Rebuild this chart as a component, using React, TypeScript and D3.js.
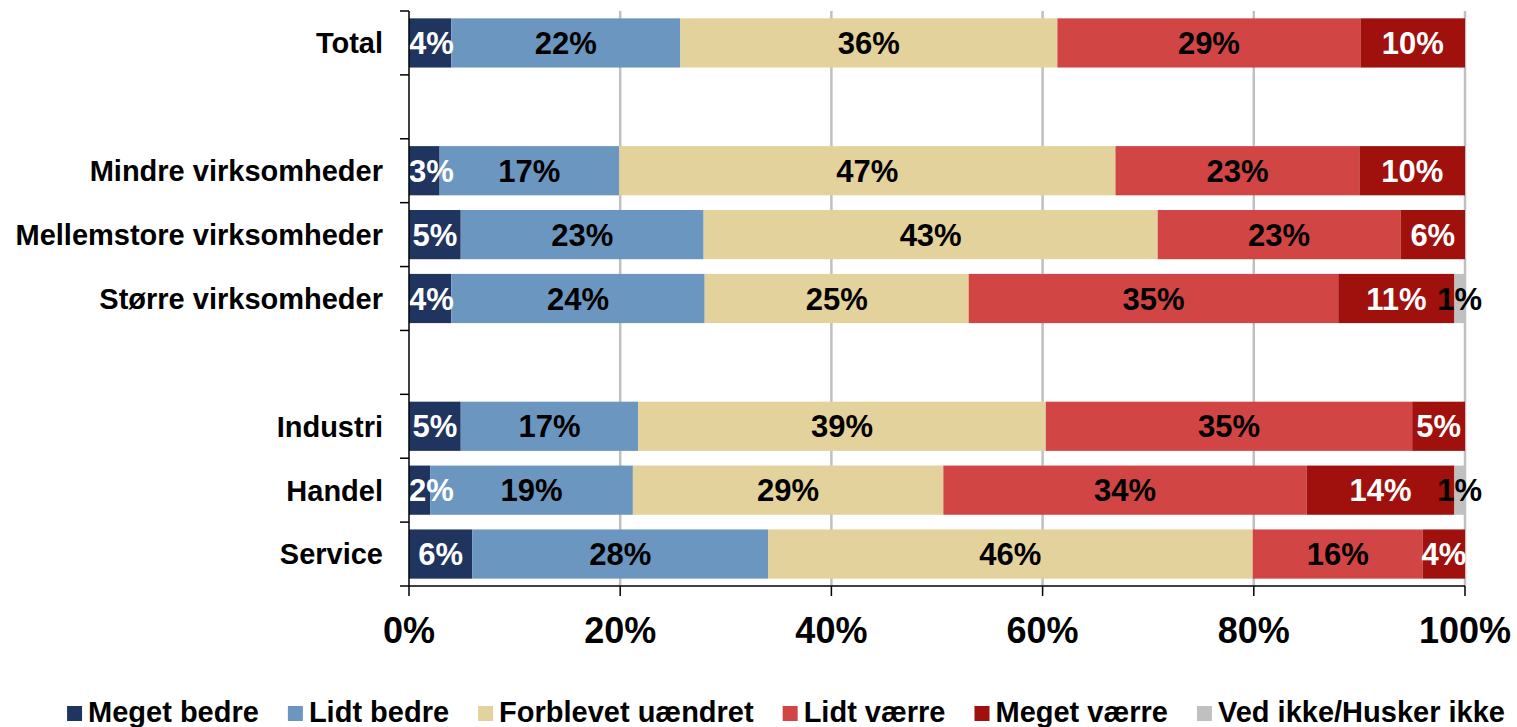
import { useEffect, useRef } from 'react'
import * as d3 from 'd3'

// rows top to bottom; blank strings are the spacer rows
const categories = ['Total', '', 'Mindre virksomheder', 'Mellemstore virksomheder', 'Større virksomheder', ' ', 'Industri', 'Handel', 'Service']

const seriesNames = ['Meget bedre', 'Lidt bedre', 'Forblevet uændret', 'Lidt værre', 'Meget værre', 'Ved ikke/Husker ikke']

const megetBedre = [4.0, null, 2.9, 4.9, 4.0, null, 4.9, 2.0, 6.0]
const lidtBedre = [21.7, null, 17.0, 23.0, 24.0, null, 16.8, 19.2, 28.0]
const uaendret = [35.7, null, 47.0, 43.0, 25.0, null, 38.6, 29.4, 45.9]
const lidtVaerre = [28.7, null, 23.1, 23.0, 35.0, null, 34.7, 34.4, 16.1]
const megetVaerre = [9.9, null, 10.0, 6.1, 11.0, null, 5.0, 14.0, 4.0]
const vedIkke = [0, null, 0, 0, 1.0, null, 0, 1.0, 0]

const xTicks = [0, 20, 40, 60, 80, 100]

const colors = ['#1F345F', '#6B96C0', '#E3D29B', '#D24545', '#A0100C', '#C0C0C0']
const labelColors = ['#fff', '#000', '#000', '#000', '#fff', '#000']

const W = 1517
const H = 727
const FONT = '"Liberation Sans", Arial, sans-serif'

export default function App() {
  const svgRef = useRef<SVGSVGElement>(null)

  useEffect(() => {
    const svgEl = svgRef.current
    if (!svgEl) return
    const svg = d3.select(svgEl)
    svg.selectAll('*').remove()

    const margin = { top: 11, right: 52, bottom: 141, left: 409 }
    const innerW = W - margin.left - margin.right
    const innerH = H - margin.top - margin.bottom

    const x = d3.scaleLinear().domain([0, 100]).range([0, innerW])
    const y = d3.scaleBand<number>()
      .domain(categories.map((_, i) => i))
      .range([0, innerH])
      .paddingInner(0.23)
      .paddingOuter(0.115)

    const g = svg.append('g').attr('transform', `translate(${margin.left},${margin.top})`)

    // Gridlines
    g.selectAll('line.grid')
      .data(xTicks.filter(t => t > 0))
      .enter()
      .append('line')
      .attr('x1', d => x(d))
      .attr('x2', d => x(d))
      .attr('y1', 0)
      .attr('y2', innerH)
      .style('stroke', '#C0C0C0')
      .style('stroke-width', '2.5')

    const series = [megetBedre, lidtBedre, uaendret, lidtVaerre, megetVaerre, vedIkke]

    categories.forEach((_, row) => {
      if (megetBedre[row] == null) return
      let acc = 0
      series.forEach((s, k) => {
        const v = s[row] as number
        const x0 = acc
        acc += v
        if (v <= 0) return
        g.append('rect')
          .attr('x', x(x0))
          .attr('y', y(row)!)
          .attr('width', x(acc) - x(x0))
          .attr('height', y.bandwidth())
          .style('fill', colors[k])
      })
      acc = 0
      series.forEach((s, k) => {
        const v = s[row] as number
        const x0 = acc
        acc += v
        if (v <= 0) return
        const t = g.append('text')
          .attr('y', y(row)! + y.bandwidth() / 2)
          .attr('dy', '0.36em')
          .attr('text-anchor', 'middle')
          .style('fill', labelColors[k])
          .style('font-size', '31px')
          .style('font-weight', 'bold')
          .style('font-family', FONT)
          .text(`${d3.format('.0f')(v)}%`)
        // keep labels inside the plot on the left edge
        const half = (t.node() as SVGTextElement).getComputedTextLength() / 2
        t.attr('x', Math.max(x((x0 + acc) / 2), half))
      })
    })

    // Y axis
    const step = y.step()
    const bounds = d3.range(categories.length + 1).map(i => i * step)
    g.append('line')
      .attr('x1', 0).attr('x2', 0).attr('y1', 0).attr('y2', innerH)
      .style('stroke', '#000').style('stroke-width', '1.5')
    g.selectAll('line.ytick')
      .data(bounds)
      .enter()
      .append('line')
      .attr('x1', -9).attr('x2', 0)
      .attr('y1', d => d).attr('y2', d => d)
      .style('stroke', '#000').style('stroke-width', '1.5')

    g.selectAll('text.cat')
      .data(categories)
      .enter()
      .append('text')
      .attr('x', -26)
      .attr('y', (_, i) => y(i)! + y.bandwidth() / 2)
      .attr('dy', '0.36em')
      .attr('text-anchor', 'end')
      .style('font-size', '29px')
      .style('font-weight', 'bold')
      .style('font-family', FONT)
      .text(d => d.trim())

    // X axis
    g.append('line')
      .attr('x1', 0).attr('x2', innerW).attr('y1', innerH).attr('y2', innerH)
      .style('stroke', '#000').style('stroke-width', '1.5')
    g.selectAll('line.xtick')
      .data(xTicks)
      .enter()
      .append('line')
      .attr('x1', d => x(d)).attr('x2', d => x(d))
      .attr('y1', innerH).attr('y2', innerH + 10)
      .style('stroke', '#000').style('stroke-width', '1.5')
    g.selectAll('text.xlab')
      .data(xTicks)
      .enter()
      .append('text')
      .attr('x', d => x(d))
      .attr('y', innerH + 57)
      .attr('text-anchor', 'middle')
      .style('font-size', '36px')
      .style('font-weight', 'bold')
      .style('font-family', FONT)
      .text(d => `${d}%`)

    // Legend
    const legend = svg.append('g')
    const items = seriesNames.map((name, k) => {
      const item = legend.append('g')
      item.append('rect')
        .attr('x', 0).attr('y', -16).attr('width', 15).attr('height', 15)
        .style('fill', colors[k])
      const t = item.append('text')
        .attr('x', 21)
        .attr('y', 0)
        .style('font-size', '29px')
        .style('font-weight', 'bold')
        .style('font-family', FONT)
        .text(name)
      const w = 21 + (t.node() as SVGTextElement).getComputedTextLength()
      return { item, w }
    })
    const gap = 29
    const total = d3.sum(items, d => d.w) + gap * (items.length - 1)
    let lx = 786 - total / 2
    items.forEach(({ item, w }) => {
      item.attr('transform', `translate(${lx},722)`)
      lx += w + gap
    })
  }, [])

  return (
    <svg
      ref={svgRef}
      width={W}
      height={H}
      style={{ position: 'absolute', left: 0, top: 0, background: '#fff' }}
    />
  )
}
